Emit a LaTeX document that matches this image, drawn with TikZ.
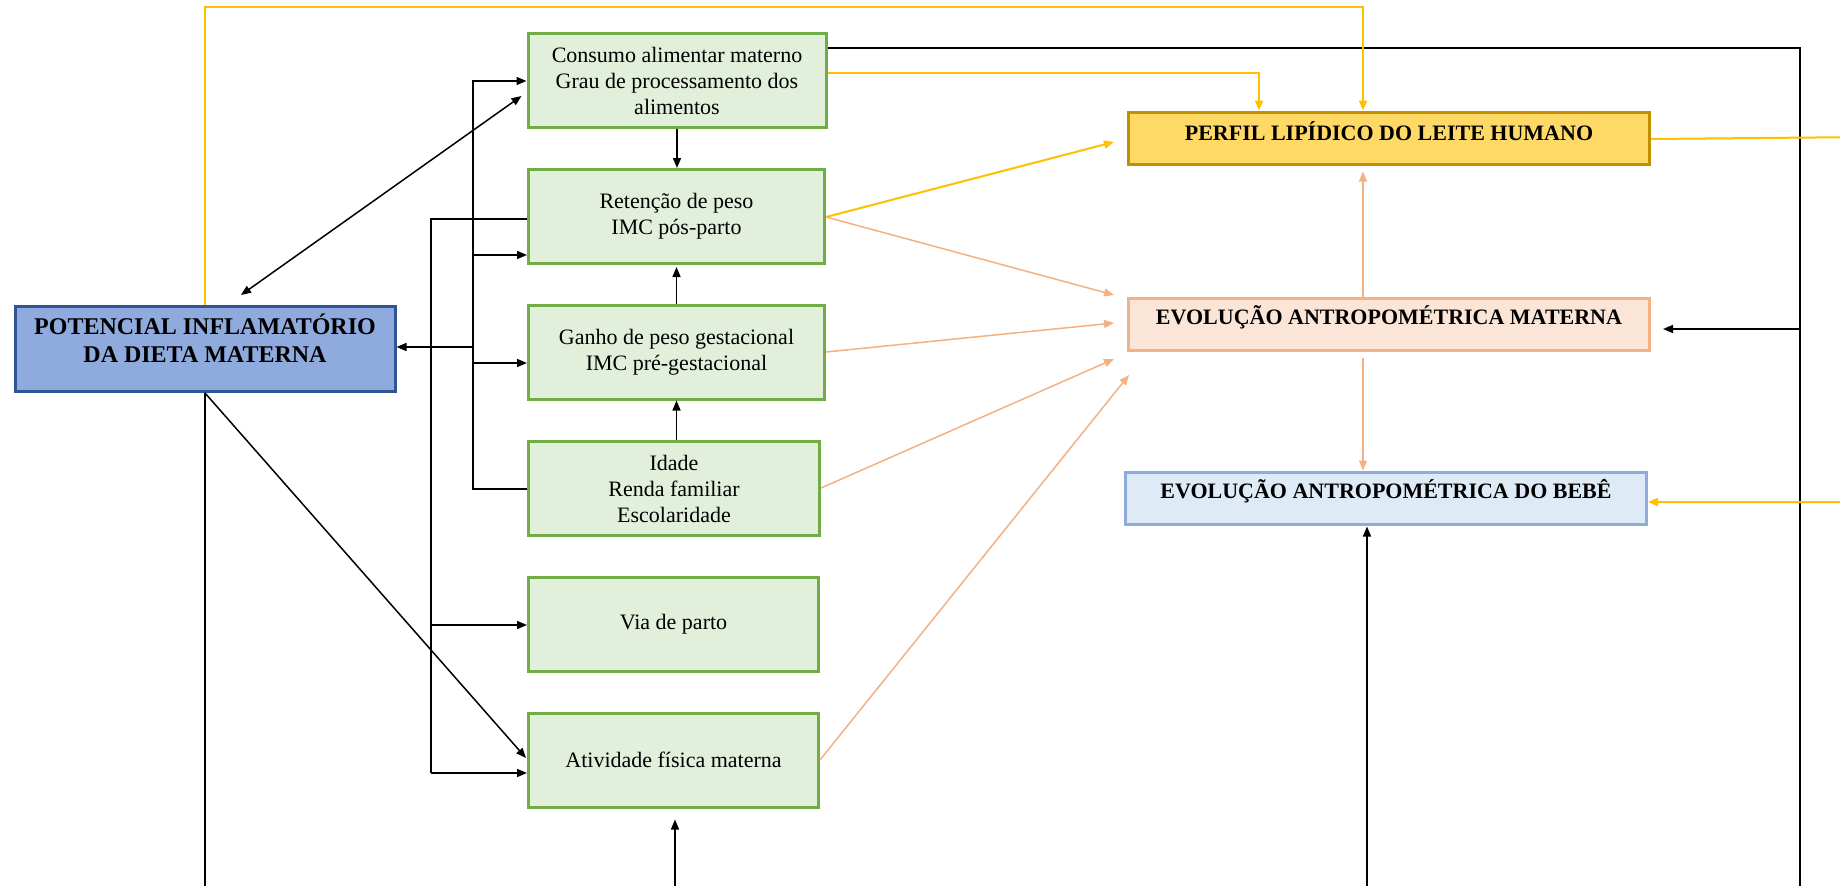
\documentclass[tikz,border=0pt]{standalone}
\usepackage{fontspec}
\setmainfont{Liberation Serif}
\usetikzlibrary{arrows.meta,calc}
\definecolor{gfill}{HTML}{E2EFDA}
\definecolor{gdraw}{HTML}{70AD47}
\definecolor{pfill}{HTML}{8FAADC}
\definecolor{pdraw}{HTML}{2F5597}
\definecolor{yfill}{HTML}{FFD966}
\definecolor{ydraw}{HTML}{BF9000}
\definecolor{ofill}{HTML}{FBE5D6}
\definecolor{odraw}{HTML}{F4B183}
\definecolor{bfill}{HTML}{DEEBF7}
\definecolor{bdraw}{HTML}{8FAADC}
\definecolor{yline}{HTML}{FFC000}
\definecolor{oline}{HTML}{F4B183}
\begin{document}
\begin{tikzpicture}[x=1pt,y=-1pt,
  box/.style={draw, line width=3pt, inner sep=0pt, align=center, font=\fontsize{22}{26}\selectfont},
  gbox/.style={box, draw=gdraw, fill=gfill, minimum width=296pt, minimum height=94pt},
  wbox/.style={box, minimum width=521pt, minimum height=52pt, font=\bfseries\fontsize{22}{26}\selectfont},
  tip/.style={-{Triangle[length=10pt,width=8pt]}},
  dtip/.style={{Triangle[length=10pt,width=8pt]}-{Triangle[length=10pt,width=8pt]}},
  blk/.style={line width=1.5pt, black},
  ylw/.style={line width=2pt, yline},
  org/.style={line width=1.5pt, oline},
]
\useasboundingbox (0,0) rectangle (1840,886);
\fill[white] (0,0) rectangle (1840,886);

% nodes
\node[gbox, minimum width=298pt] (cons) at (677,80.5) {Consumo alimentar materno\\Grau de processamento dos\\alimentos};
\node[gbox] (ret) at (676.5,216.5) {Retenção de peso\\IMC pós-parto};
\node[gbox] (ganho) at (676.5,352) {Ganho de peso gestacional\\IMC pré-gestacional};
\node[gbox, minimum width=291pt] (idade) at (674,488.5) {Idade\\Renda familiar\\Escolaridade};
\node[gbox, minimum width=290pt] (via) at (673.5,624) {Via de parto};
\node[gbox, minimum width=290pt] (ativ) at (673.5,760) {Atividade física materna};
\node[box, draw=pdraw, fill=pfill, minimum width=380pt, minimum height=85pt] (pot) at (205,349)
  {\raisebox{7pt}[\height][\depth]{\bfseries\fontsize{24}{28}\selectfont\begin{tabular}{@{}c@{}}POTENCIAL INFLAMATÓRIO\\DA DIETA MATERNA\end{tabular}}};
\node[wbox, draw=ydraw, fill=yfill] (perfil) at (1389,138) {\raisebox{7pt}[\height][\depth]{PERFIL LIPÍDICO DO LEITE HUMANO}};
\node[wbox, draw=odraw, fill=ofill] (mat) at (1389,324.5) {\raisebox{7pt}[\height][\depth]{EVOLUÇÃO ANTROPOMÉTRICA MATERNA}};
\node[wbox, draw=bdraw, fill=bfill] (bebe) at (1386,498) {\raisebox{7pt}[\height][\depth]{EVOLUÇÃO ANTROPOMÉTRICA DO BEBÊ}};

% free ends / bends
\coordinate (rtop) at (1800,48);
\coordinate (rbot) at (1800,900);
\coordinate (rmat) at (1800,329);
\coordinate (ba1) at (473,81);
\coordinate (ba2) at (473,489);
\coordinate (bb1) at (431,219);
\coordinate (bb2) at (431,773);
\coordinate (botA) at (205,900);
\coordinate (botB) at (675,900);
\coordinate (botC) at (1367,900);
\coordinate (ytop) at (1363,7);
\coordinate (ycons) at (1259,73);
\coordinate (yr1) at (1870,137);
\coordinate (yr2) at (1870,502);

% black connectors
\draw[blk] (cons.east |- rtop) -- (rtop) -- (rbot);
\draw[blk, tip, shorten >=12pt] (rmat) -- (mat.east |- rmat);
\draw[blk, dtip] ($(pot.north)+(36,-10)$) -- ($(cons.west)+(-5,15.5)$);
\draw[blk, tip] (pot.south) -- ($(ativ.west)+(-1,-2)$);
\draw[blk, tip] (idade.west |- ba2) -- (ba2) -- (ba1) -- (cons.west |- ba1);
\draw[blk, tip] (473,255) -- (ret.west |- 0,255);
\draw[blk, tip] (473,347) -- (pot.east |- 0,347);
\draw[blk, tip] (473,363) -- (ganho.west |- 0,363);
\draw[blk] (ret.west |- bb1) -- (bb1) -- (bb2);
\draw[blk, tip] (431,625) -- (via.west |- 0,625);
\draw[blk, tip] (bb2) -- (ativ.west |- bb2);
\draw[blk, tip] (cons.south) -- (cons.south |- ret.north);
\draw[blk, tip, shorten >=2pt] (ganho.north) -- (ganho.north |- ret.south);
\draw[blk, tip] (ganho.south |- idade.north) -- (ganho.south);
\draw[blk] (pot.south) -- (botA);
\draw[blk, tip, shorten >=11pt] (botB) -- (botB |- ativ.south);
\draw[blk, tip, shorten >=1pt] (botC) -- (botC |- bebe.south);

% yellow connectors
\draw[ylw, tip] (pot.north) -- (pot.north |- ytop) -- (ytop) -- (ytop |- perfil.north);
\draw[ylw, tip] (cons.east |- ycons) -- (ycons) -- (ycons |- perfil.north);
\draw[ylw, tip] (ret.east |- 0,217) -- ($(perfil.west)+(-13,4)$);
\draw[ylw, tip] (perfil.east |- 0,139) -- (yr1) -- (yr2) -- (bebe.east |- yr2);

% orange connectors
\draw[org, tip] (ret.east |- 0,217) -- ($(mat.west)+(-13,-29.5)$);
\draw[org, tip] (ganho.east |- 0,352) -- ($(mat.west)+(-13,-1.5)$);
\draw[org, tip] (idade.east |- 0,488) -- ($(mat.west)+(-13,34.5)$);
\draw[org, tip] (ativ.east |- 0,760) -- ($(mat.west)+(2,50.5)$);
\draw[org, tip, shorten >=6pt] (ytop |- mat.north) -- (ytop |- perfil.south);
\draw[org, tip, shorten <=6pt] (ytop |- mat.south) -- (ytop |- bebe.north);
\end{tikzpicture}
\end{document}
